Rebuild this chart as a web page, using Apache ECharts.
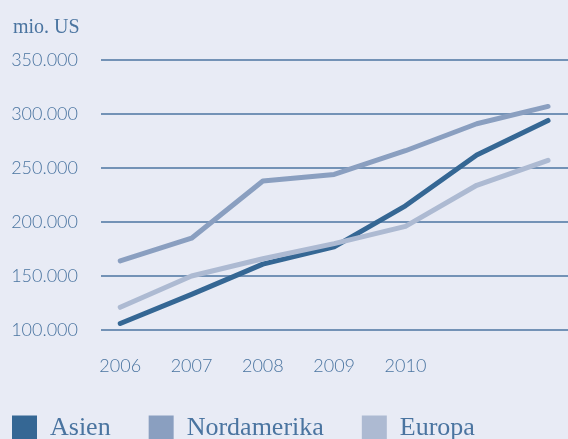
<!DOCTYPE html>
<html>
<head>
<meta charset="utf-8">
<script src="https://cdn.jsdelivr.net/npm/echarts@6/dist/echarts.min.js"></script>
<style>
    html, body { margin: 0; padding: 0; background: #e8ebf5; }
    #chart { width: 568px; height: 439px; }
</style>
</head>
<body>
<div id="chart"></div>
<script>
// data
const years = ['2006', '2007', '2008', '2009', '2010', '', '']
const asien = [106000, 133000, 161000, 177000, 215000, 262000, 294000]
const nordamerika = [164000, 185000, 238000, 244000, 266000, 291000, 307000]
const europa = [121000, 150000, 166000, 180000, 196000, 234000, 257000]
const yTicks = [100000, 150000, 200000, 250000, 300000, 350000]

const textColor = '#4a74a0'
const gridColor = '#4d74a0'
const numFont = 'Lato, "Noto Sans", sans-serif'
const serifFont = '"Liberation Serif", "DejaVu Serif", serif'

const toPoints = vals => vals.map((v, i) => [i, v])

const chart = echarts.init(document.getElementById('chart'))

chart.setOption({
    backgroundColor: '#e8ebf5',
    animation: false,
    color: ['#356794', '#8a9fc0', '#adbad2'],
    title: {
        text: 'mio. US',
        left: 8,
        top: 13,
        textStyle: {
            fontFamily: serifFont,
            fontWeight: 'normal',
            fontSize: 20,
            color: textColor,
        },
    },
    grid: {
        left: 101,
        right: 0,
        top: 60,
        bottom: 109,
    },
    legend: {
        left: 7,
        top: 410,
        itemWidth: 25,
        itemHeight: 25,
        itemGap: 38,
        icon: 'rect',
        textStyle: {
            fontFamily: serifFont,
            fontSize: 26,
            color: textColor,
            padding: [2, 0, 0, 8],
        },
        data: ['Asien', 'Nordamerika', 'Europa'],
    },
    xAxis: {
        type: 'value',
        min: -0.27,
        max: 6.28,
        axisLine: { show: false },
        axisTick: { show: false },
        splitLine: { show: false },
        axisLabel: {
            customValues: [0, 1, 2, 3, 4],
            formatter: v => years[Math.round(v)],
            margin: 27,
            color: textColor,
            fontFamily: numFont,
            fontSize: 18,
            fontWeight: 300,
        },
    },
    yAxis: {
        type: 'value',
        min: yTicks[0],
        max: yTicks[yTicks.length - 1],
        interval: 50000,
        axisLine: { show: false },
        axisTick: { show: false },
        splitLine: { lineStyle: { color: gridColor, width: 1.5 } },
        axisLabel: {
            margin: 23,
            color: textColor,
            fontFamily: numFont,
            fontSize: 18,
            fontWeight: 300,
            formatter: v => (v / 1000).toFixed(0) + '.000',
        },
    },
    series: [
        { name: 'Asien', data: toPoints(asien) },
        { name: 'Nordamerika', data: toPoints(nordamerika) },
        { name: 'Europa', data: toPoints(europa) },
    ].map(s => ({
        type: 'line',
        name: s.name,
        data: s.data,
        showSymbol: false,
        lineStyle: { width: 5, cap: 'round', join: 'round' },
    })),
})
</script>
</body>
</html>
